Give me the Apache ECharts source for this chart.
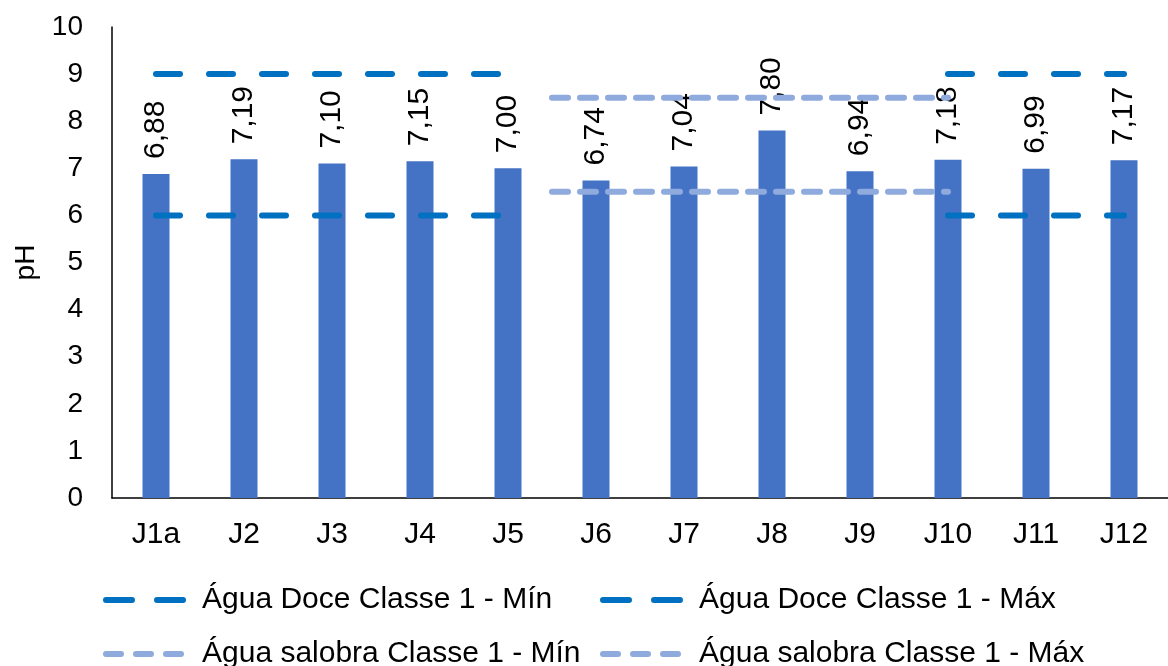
<!DOCTYPE html>
<html>
<head>
<meta charset="utf-8">
<script src="https://cdn.jsdelivr.net/npm/echarts@6/dist/echarts.min.js"></script>
<style>
  html, body { margin: 0; padding: 0; background: #fff; }
  #chart { width: 1168px; height: 666px; }
</style>
</head>
<body>
<div id="chart"></div>
<script>
// pontos de coleta
const categories = ['J1a', 'J2', 'J3', 'J4', 'J5', 'J6', 'J7', 'J8', 'J9', 'J10', 'J11', 'J12']
const phValues = [6.88, 7.19, 7.10, 7.15, 7.00, 6.74, 7.04, 7.80, 6.94, 7.18, 6.99, 7.17]
// limites água doce (J1a-J5 e J10-J12)
const doceMin = [6, 6, 6, 6, 6, null, null, null, null, 6, 6, 6]
const doceMax = [9, 9, 9, 9, 9, null, null, null, null, 9, 9, 9]
// limites água salobra, posição em índice de categoria
const salobraX = [4.5, 9]
const salobraMin = [6.5, 6.5]
const salobraMax = [8.5, 8.5]
const yTicks = [0, 10, 1]

const names = [
  'Água Doce Classe 1 - Mín',
  'Água Doce Classe 1 - Máx',
  'Água salobra Classe 1 - Mín',
  'Água salobra Classe 1 - Máx'
]

const font = 'Liberation Sans, Arial, sans-serif'
const doceStyle = { color: '#0070C0', width: 6, type: [24, 29], cap: 'round' }
const salobraStyle = { color: '#8FAADC', width: 6, type: [16, 12], cap: 'round' }

const legendAt = (name, left, top, line) => ({
  data: [name],
  left, top,
  padding: 0,
  itemWidth: 77,
  itemHeight: 8,
  itemGap: 0,
  itemStyle: { opacity: 0 },
  lineStyle: line,
  textStyle: { fontFamily: font, fontSize: 30, color: '#000', padding: [0, 0, 0, 14] }
})

const chart = echarts.init(document.getElementById('chart'))
chart.setOption({
  animation: false,
  grid: { left: 112, top: 27, width: 1063, height: 471 },
  legend: [
    legendAt(names[0], 103, 585, { color: '#0070C0', width: 6, type: [26, 25], cap: 'round' }),
    legendAt(names[1], 600, 585, { color: '#0070C0', width: 6, type: [26, 25], cap: 'round' }),
    legendAt(names[2], 103, 639, { color: '#8FAADC', width: 6, type: [15, 15], cap: 'round' }),
    legendAt(names[3], 600, 639, { color: '#8FAADC', width: 6, type: [15, 15], cap: 'round' })
  ],
  xAxis: [
    {
      type: 'category',
      data: categories,
      axisLine: { lineStyle: { color: '#000', width: 1.5 } },
      axisTick: { show: false },
      axisLabel: { fontFamily: font, fontSize: 30, color: '#000', margin: 22 }
    },
    {
      type: 'value',
      min: -0.5,
      max: 11.5,
      show: false
    }
  ],
  yAxis: {
    type: 'value',
    min: yTicks[0],
    max: yTicks[1],
    interval: yTicks[2],
    name: 'pH',
    nameLocation: 'middle',
    nameGap: 72,
    nameTextStyle: { fontFamily: font, fontSize: 28, color: '#000' },
    axisLine: { show: true, onZero: false, lineStyle: { color: '#000', width: 1.5 } },
    axisTick: { show: false },
    splitLine: { show: false },
    axisLabel: { fontFamily: font, fontSize: 28, color: '#000', margin: 29 }
  },
  series: [
    {
      type: 'bar',
      data: phValues,
      barWidth: 27,
      itemStyle: { color: '#4472C4' },
      label: {
        show: true,
        position: 'top',
        rotate: 90,
        align: 'left',
        verticalAlign: 'middle',
        distance: 15,
        fontFamily: font,
        fontSize: 30,
        color: '#000',
        formatter: p => p.value.toFixed(2).replace('.', ',')
      },
      z: 1
    },
    {
      name: names[0], type: 'line', data: doceMin,
      symbol: 'none', lineStyle: doceStyle, itemStyle: { color: '#0070C0' }, z: 3
    },
    {
      name: names[1], type: 'line', data: doceMax,
      symbol: 'none', lineStyle: doceStyle, itemStyle: { color: '#0070C0' }, z: 3
    },
    {
      name: names[2], type: 'line', xAxisIndex: 1,
      data: salobraX.map((x, i) => [x, salobraMin[i]]),
      symbol: 'none', lineStyle: salobraStyle, itemStyle: { color: '#8FAADC' }, z: 3
    },
    {
      name: names[3], type: 'line', xAxisIndex: 1,
      data: salobraX.map((x, i) => [x, salobraMax[i]]),
      symbol: 'none', lineStyle: salobraStyle, itemStyle: { color: '#8FAADC' }, z: 3
    }
  ]
})
</script>
</body>
</html>
